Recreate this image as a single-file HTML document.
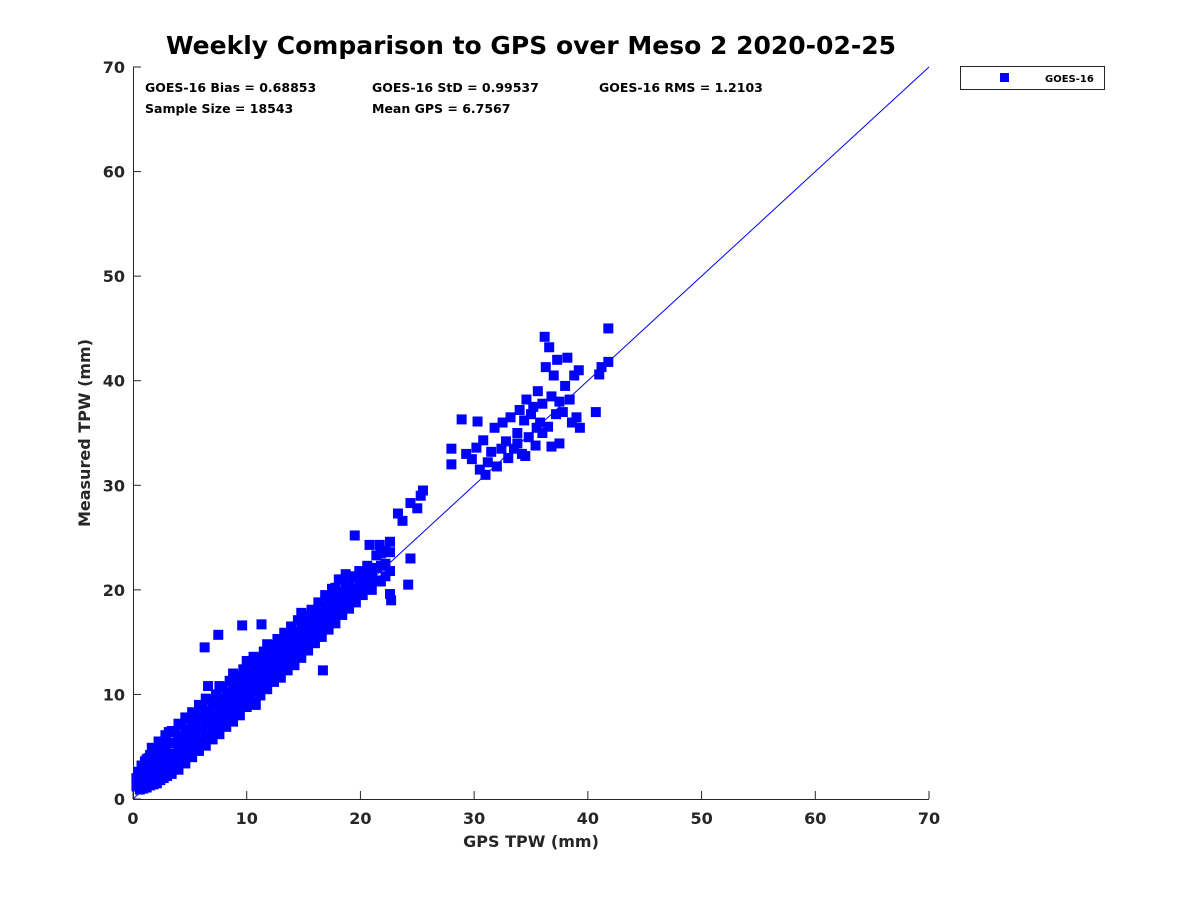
<!DOCTYPE html>
<html><head><meta charset="utf-8">
<style>
body{margin:0;background:#fff;}
svg text{font-family:"DejaVu Sans","Liberation Sans",sans-serif;font-weight:bold;fill:#262626;}
</style></head>
<body>
<svg id="chart" width="1200" height="900" xmlns="http://www.w3.org/2000/svg">
<rect width="1200" height="900" fill="#fff"/>
<text x="531" y="54" text-anchor="middle" font-size="25" style="fill:#000">Weekly Comparison to GPS over Meso 2 2020-02-25</text>
<g id="stats" font-size="12.5">
<text x="145" y="92" style="fill:#000">GOES-16 Bias = 0.68853</text>
<text x="372" y="92" style="fill:#000">GOES-16 StD = 0.99537</text>
<text x="599" y="92" style="fill:#000">GOES-16 RMS = 1.2103</text>
<text x="145" y="113" style="fill:#000">Sample Size = 18543</text>
<text x="372" y="113" style="fill:#000">Mean GPS = 6.7567</text>
</g>
<g id="marks"></g>
<g id="axes"></g>
<g>
<rect x="960.5" y="66.5" width="144" height="23" fill="#fff" stroke="#262626" stroke-width="1"/>
<rect x="1000" y="73" width="9" height="9" fill="#0000ff"/>
<text x="1045" y="82" font-size="10" style="fill:#000">GOES-16</text>
</g>
<text x="531" y="847" text-anchor="middle" font-size="16">GPS TPW (mm)</text>
<text transform="translate(90,433) rotate(-90)" text-anchor="middle" font-size="16">Measured TPW (mm)</text>
</svg>
<script>
const xTicks=[0,10,20,30,40,50,60,70];
const yTicks=[0,10,20,30,40,50,60,70];
const gps=[0.3,0.3,0.6,0.6,0.6,0.9,0.9,0.9,1.2,1.2,1.2,1.2,1.5,1.5,1.5,1.5,1.8,1.8,1.8,1.8,2.1,2.1,2.1,2.1,2.4,2.4,2.4,2.4,2.7,2.7,2.7,2.7,3,3,3,3,
3.4,3.4,3.4,3.4,3.4,4,4,4,4,4,4.6,4.6,4.6,4.6,4.6,5.2,5.2,5.2,5.2,5.2,5.8,5.8,5.8,5.8,5.8,6.4,6.4,6.4,6.4,6.4,7,7,7,7,7.6,7.6,7.6,7.6,7.6,8.2,8.2,8.2,8.2,8.8,8.8,8.8,8.8,8.8,9.4,9.4,9.4,9.4,10,10,10,10,10,10.6,10.6,10.6,10.6,10.6,11.2,11.2,11.2,11.2,11.8,11.8,11.8,11.8,11.8,12.4,12.4,12.4,12.4,13,13,13,13,13.6,13.6,13.6,13.6,14.2,14.2,14.2,14.2,14.8,14.8,14.8,14.8,15.4,15.4,15.4,15.4,16,16,16,16,16.6,16.6,16.6,17.2,17.2,17.2,17.2,17.8,17.8,17.8,17.8,18.4,18.4,18.4,18.4,19,19,19,19.6,19.6,19.6,20.2,20.2,20.2,21,21,21,21.8,21.8,21.8,22.6,22.6,22.6,22.6,
6.3,9.6,11.3,14.8,19.5,20.8,21.7,24.4,24.2,22.7,16.7,10.8,6.6,7.5,23.3,23.7,24.4,25.3,25.5,25,
28,28,28.9,29.3,29.8,30.2,30.5,30.8,31.2,31.5,31.8,32,32.4,32.8,33,33.2,33.5,33.8,34,34.2,34.4,34.6,34.8,35,35.2,35.4,35.6,35.8,36,36.2,36.3,36.5,36.6,36.8,37,37.2,37.3,37.5,37.8,38,38.2,38.4,38.6,38.8,39,39.2,39.3,40.7,41,41.2,41.8,41.8,36,35.5,37.5,36.8,34.5,33.8,31,32.5,30.3];
const measured=[1.2,2,0.9,1.6,2.4,1,1.8,2.6,1.1,2,2.9,3.8,1.3,2.2,3.1,4.2,1.4,2.3,3.2,4,1.5,2.4,3.4,4.5,1.8,2.7,3.6,4.6,2,3,4,5,2.2,3.2,4.2,5.3,
2.4,3.3,4.3,5.4,6.5,2.8,3.9,4.9,6,7.2,3.4,4.4,5.5,6.6,7.8,4,5,6.1,7.2,8.3,4.6,5.7,6.8,7.9,9,5.1,6.2,7.3,8.4,9.6,5.7,6.8,7.9,9,6.2,7.4,8.5,9.6,10.8,6.9,8,9.1,10.2,7.4,8.6,9.7,10.8,12,8,9.2,10.3,11.4,8.8,9.8,10.9,12,13.2,9.3,10.4,11.5,12.6,13.6,9.9,11,12.1,13.2,10.5,11.6,12.7,13.8,14.8,11.2,12.2,13.3,14.4,11.6,12.8,13.9,15,12.3,13.4,14.5,15.6,12.8,14,15.1,16,13.5,14.6,15.7,16.6,14.2,15.3,16.4,17.2,14.9,15.9,17,18,15.5,16.5,17.6,16.2,17.2,18.3,19.3,16.8,17.8,19,20.2,17.6,18.6,19.7,21,18.2,19.4,20.4,18.8,20,21.2,19.5,20.6,21.5,20,21.2,22,20.8,22.3,23.5,19.6,21.8,23.6,24.6,
14.5,16.6,16.7,17.8,25.2,24.3,24.3,23,20.5,19,12.3,9,10.8,15.7,27.3,26.6,28.3,29,29.5,27.8,
33.5,32,36.3,33,32.5,33.6,31.5,34.3,32.2,33.2,35.5,31.8,33.5,34.2,32.6,36.5,33.5,35,37.2,33,36.2,38.2,34.6,36.8,37.5,33.8,39,36,37.8,44.2,41.3,35.6,43.2,38.5,40.5,36.8,42,38,37,39.5,42.2,38.2,36,40.5,36.5,41,35.5,37,40.6,41.3,41.8,45,35,35.5,34,33.7,32.8,34,31,36,36.1];
const gpsFill=[0.45,0.45,0.75,0.75,0.75,1.05,1.05,1.05,1.35,1.35,1.35,1.65,1.65,1.65,1.65,1.95,1.95,1.95,2.25,2.25,2.25,2.25,2.55,2.55,2.55,2.85,2.85,2.85,2.85,3.15,3.15,3.15,3.15,
3.7,3.7,3.7,3.7,4.3,4.3,4.3,4.3,4.9,4.9,4.9,4.9,5.5,5.5,5.5,5.5,6.1,6.1,6.1,6.1,6.7,6.7,6.7,6.7,7.3,7.3,7.3,7.3,7.9,7.9,7.9,7.9,8.5,8.5,8.5,8.5,9.1,9.1,9.1,9.1,9.7,9.7,9.7,9.7,10.3,10.3,10.3,10.3,10.9,10.9,10.9,10.9,11.5,11.5,11.5,11.5,12.1,12.1,12.1,12.1,12.7,12.7,12.7,12.7,13.3,13.3,13.3,13.3,13.9,13.9,13.9,13.9,14.5,14.5,14.5,14.5,15.1,15.1,15.1,15.1,15.7,15.7,15.7,15.7,16.3,16.3,16.3,16.3,16.9,16.9,16.9,16.9,17.5,17.5,17.5,17.5,18.1,18.1,18.1,18.1,18.7,18.7,18.7,18.7,19.3,19.3,19.3,19.9,19.9,19.9,20.6,20.6,20.6,21.4,21.4,21.4,22.2,22.2,22.2];
const measuredFill=[1.5,2.6,1.3,2.3,3.2,1.5,2.6,3.6,1.7,2.9,3.9,1.8,3,4,4.9,1.9,3.2,4.4,2.1,3.4,4.5,5.5,2.3,3.7,4.8,2.6,3.9,5,6.1,2.7,4.2,5.3,6.4,
3.4,4.3,5.3,6.4,3.8,4.9,5.9,7.1,4.4,5.4,6.5,7.7,5,6,7.1,8.2,5.5,6.7,7.8,8.9,6.1,7.2,8.3,9.5,6.7,7.8,8.9,10,7.2,8.4,9.5,10.7,7.8,9,10.1,11.3,8.3,9.5,10.7,11.8,9,10.1,11.2,12.4,9.6,10.7,11.8,13,10.3,11.3,12.4,13.5,10.8,11.9,13,14.1,11.4,12.5,13.6,14.7,12,13.1,14.2,15.3,12.6,13.7,14.8,15.9,13.2,14.3,15.4,16.5,13.8,14.9,16,17.1,14.4,15.5,16.5,17.5,15.1,16.1,17.2,18.1,15.7,16.7,17.8,18.8,16.4,17.4,18.5,19.5,17,18,19.1,20.1,17.7,18.7,19.8,21,18.4,19.5,20.5,21.5,19,20.1,21.3,19.7,20.8,21.8,20.3,21.4,22.3,20.9,22.1,23.3,21.3,22.5,23.7];
const X0=133,X1=929,Y0=799,Y1=67;
const sx=v=>X0+(v-0)/70*(X1-X0);
const sy=v=>Y0-(v-0)/70*(Y0-Y1);
const NS="http://www.w3.org/2000/svg";
const marks=document.getElementById('marks');
const allX=gps.concat(gpsFill), allY=measured.concat(measuredFill);
for(let i=0;i<allX.length;i++){
  const r=document.createElementNS(NS,'rect');
  r.setAttribute('x',sx(allX[i])-5);r.setAttribute('y',sy(allY[i])-5);
  r.setAttribute('width',10);r.setAttribute('height',10);r.setAttribute('fill','#0000ff');
  
  
  marks.appendChild(r);
}
const line=document.createElementNS(NS,'line');
line.setAttribute('x1',sx(0));line.setAttribute('y1',sy(0));line.setAttribute('x2',sx(70));line.setAttribute('y2',sy(70));
line.setAttribute('stroke','#0000ff');line.setAttribute('stroke-width','1');


marks.appendChild(line);
const axes=document.getElementById('axes');
let p=`M${X0+0.5},${Y1}V${Y0+0.5}H${X1}`;
const ax=document.createElementNS(NS,'path');
ax.setAttribute('d',p);ax.setAttribute('stroke','#262626');ax.setAttribute('fill','none');ax.setAttribute('stroke-width','1');


axes.appendChild(ax);
xTicks.forEach(t=>{
  const x=sx(t);
  const l=document.createElementNS(NS,'line');
  l.setAttribute('x1',x);l.setAttribute('x2',x);l.setAttribute('y1',Y0);l.setAttribute('y2',Y0-8);l.setAttribute('stroke','#262626');
  
  
  axes.appendChild(l);
  const tx=document.createElementNS(NS,'text');
  tx.setAttribute('x',x);tx.setAttribute('y',Y0+25);tx.setAttribute('text-anchor','middle');tx.setAttribute('font-size','16');
  tx.textContent=t;
  
  
  axes.appendChild(tx);
});
yTicks.forEach(t=>{
  const y=sy(t);
  const l=document.createElementNS(NS,'line');
  l.setAttribute('x1',X0);l.setAttribute('x2',X0+8);l.setAttribute('y1',y);l.setAttribute('y2',y);l.setAttribute('stroke','#262626');
  
  
  axes.appendChild(l);
  const tx=document.createElementNS(NS,'text');
  tx.setAttribute('x',X0-8);tx.setAttribute('y',y+6);tx.setAttribute('text-anchor','end');tx.setAttribute('font-size','16');
  tx.textContent=t;
  
  
  axes.appendChild(tx);
});
</script>
</body></html>
